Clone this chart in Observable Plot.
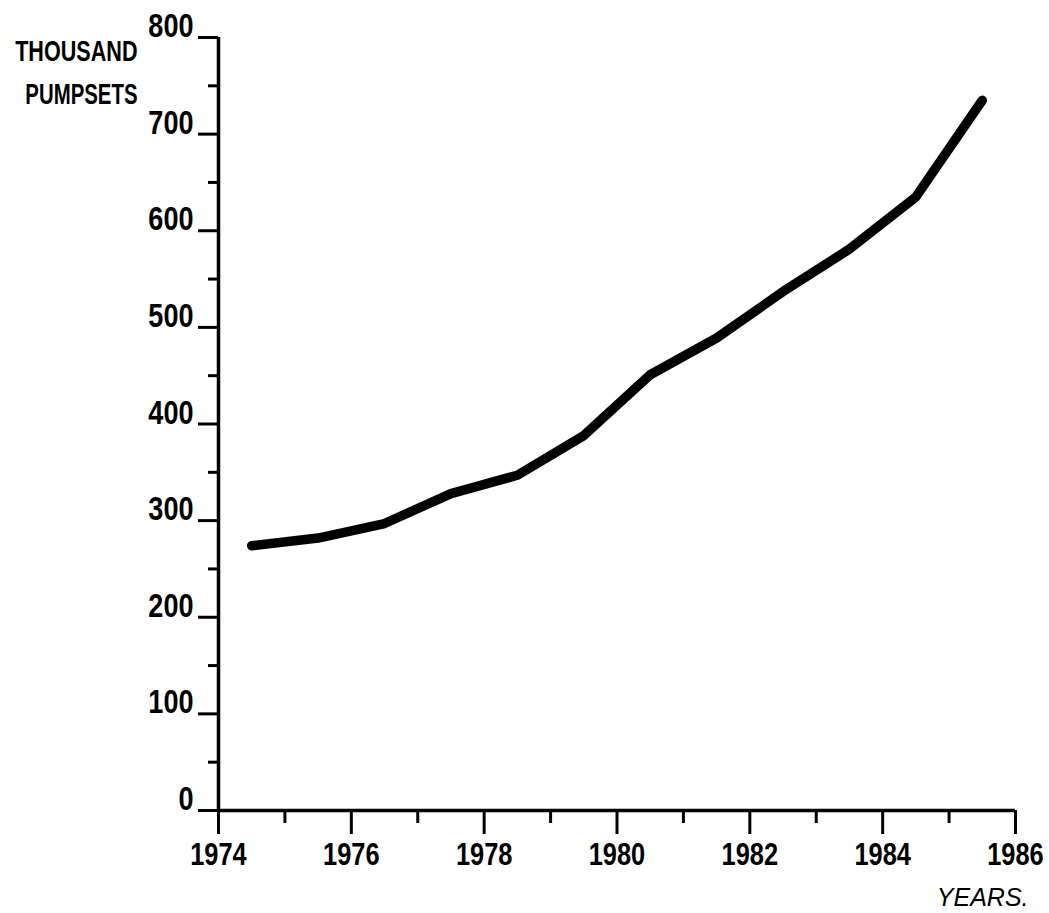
<!DOCTYPE html>
<html>
<head>
<meta charset="utf-8">
<script src="https://cdn.jsdelivr.net/npm/d3@7"></script>
<script src="https://cdn.jsdelivr.net/npm/@observablehq/plot@0.6"></script>
<style>
  html, body { margin: 0; padding: 0; background: #fff; }
  #chart svg { display: block; }
</style>
</head>
<body>
<div id="chart"></div>
<script>
// Data
const years = [1974.5, 1975.5, 1976.5, 1977.5, 1978.5, 1979.5, 1980.5, 1981.5, 1982.5, 1983.5, 1984.5, 1985.5];
const pumpsets = [274, 282, 297, 328, 347, 388, 451, 489, 537, 581, 635, 735];

const yMajorTicks = [0, 100, 200, 300, 400, 500, 600, 700, 800];
const yMinorTicks = [50, 150, 250, 350, 450, 550, 650, 750];
const xMajorTicks = [1974, 1976, 1978, 1980, 1982, 1984, 1986];
const xMinorTicks = [1975, 1977, 1979, 1981, 1983, 1985];

const yTitleLines = ["THOUSAND", "PUMPSETS"];
const xTitle = "YEARS.";

const data = years.map((y, i) => ({year: y, value: pumpsets[i]}));

const numFont = '"Liberation Sans", Arial, sans-serif';

const chart = Plot.plot({
  width: 1049,
  height: 913,
  marginLeft: 218,
  marginRight: 34,
  marginTop: 37,
  marginBottom: 103,
  style: {background: "#fff", color: "#000", fontFamily: numFont},
  x: {domain: [1974, 1986], axis: null},
  y: {domain: [0, 800], axis: null},
  marks: [
    // axis lines
    Plot.ruleX([1974], {stroke: "#000", strokeWidth: 3.5}),
    Plot.ruleY([0], {stroke: "#000", strokeWidth: 3.5}),
    // y axis: major ticks, minor ticks, labels
    Plot.axisY(yMajorTicks, {
      tickSize: 20, strokeWidth: 3, stroke: "#000", fill: "none", label: null
    }),
    Plot.axisY(yMinorTicks, {
      tickSize: 10, strokeWidth: 3, stroke: "#000", fill: "none", label: null
    }),
    Plot.axisY(yMajorTicks, {
      tickSize: 0, tickPadding: 25, stroke: "none",
      fill: "#000", dy: -11, fontSize: 33, fontWeight: "bold",
      label: null, tickFormat: d => String(d)
    }),
    // x axis
    Plot.axisX(xMajorTicks, {
      tickSize: 24, tickPadding: 8, strokeWidth: 3, stroke: "#000",
      fill: "#000", fontSize: 31, fontWeight: "bold",
      label: null, tickFormat: d => String(d)
    }),
    Plot.axisX(xMinorTicks, {
      tickSize: 13, strokeWidth: 3, stroke: "#000", fill: "none", label: null
    }),
    // the series
    Plot.line(data, {
      x: "year", y: "value",
      stroke: "#000", strokeWidth: 9.5,
      strokeLinecap: "round", strokeLinejoin: "round"
    }),
    // axis titles
    Plot.text([yTitleLines[0]], {
      frameAnchor: "top-left", textAnchor: "end", lineAnchor: "middle",
      dx: -81, dy: 14,
      fontSize: 30, fontWeight: "bold", fill: "#000"
    }),
    Plot.text([yTitleLines[1]], {
      frameAnchor: "top-left", textAnchor: "end", lineAnchor: "middle",
      dx: -81, dy: 57,
      fontSize: 30, fontWeight: "bold", fill: "#000"
    }),
    Plot.text([xTitle], {
      frameAnchor: "bottom-right", textAnchor: "end", lineAnchor: "middle",
      dx: 13, dy: 87,
      fontSize: 25, fontStyle: "italic", fill: "#000",
      letterSpacing: "0.5px"
    })
  ]
});

// Narrow the lettering horizontally to imitate the condensed hand lettering.
function condense(selector, sx) {
  chart.querySelectorAll(selector).forEach(el => {
    let t = el.getAttribute("transform");
    if (!t) {
      const x = +(el.getAttribute("x") || 0), y = +(el.getAttribute("y") || 0);
      el.removeAttribute("x"); el.removeAttribute("y");
      t = `translate(${x},${y})`;
    }
    el.setAttribute("transform", `${t} scale(${sx},1)`);
  });
}
condense('g[aria-label="y-axis tick label"] text', 0.82);
condense('g[aria-label="x-axis tick label"] text', 0.82);
chart.querySelectorAll('g[aria-label="text"] text').forEach(el => {
  if (el.textContent === yTitleLines[0] || el.textContent === yTitleLines[1]) {
    let t = el.getAttribute("transform");
    if (!t) {
      const x = +(el.getAttribute("x") || 0), y = +(el.getAttribute("y") || 0);
      el.removeAttribute("x"); el.removeAttribute("y");
      t = `translate(${x},${y})`;
    }
    el.setAttribute("transform", `${t} scale(${el.textContent === yTitleLines[0] ? 0.72 : 0.68},1)`);
  }
});

document.getElementById("chart").appendChild(chart);
</script>
</body>
</html>
